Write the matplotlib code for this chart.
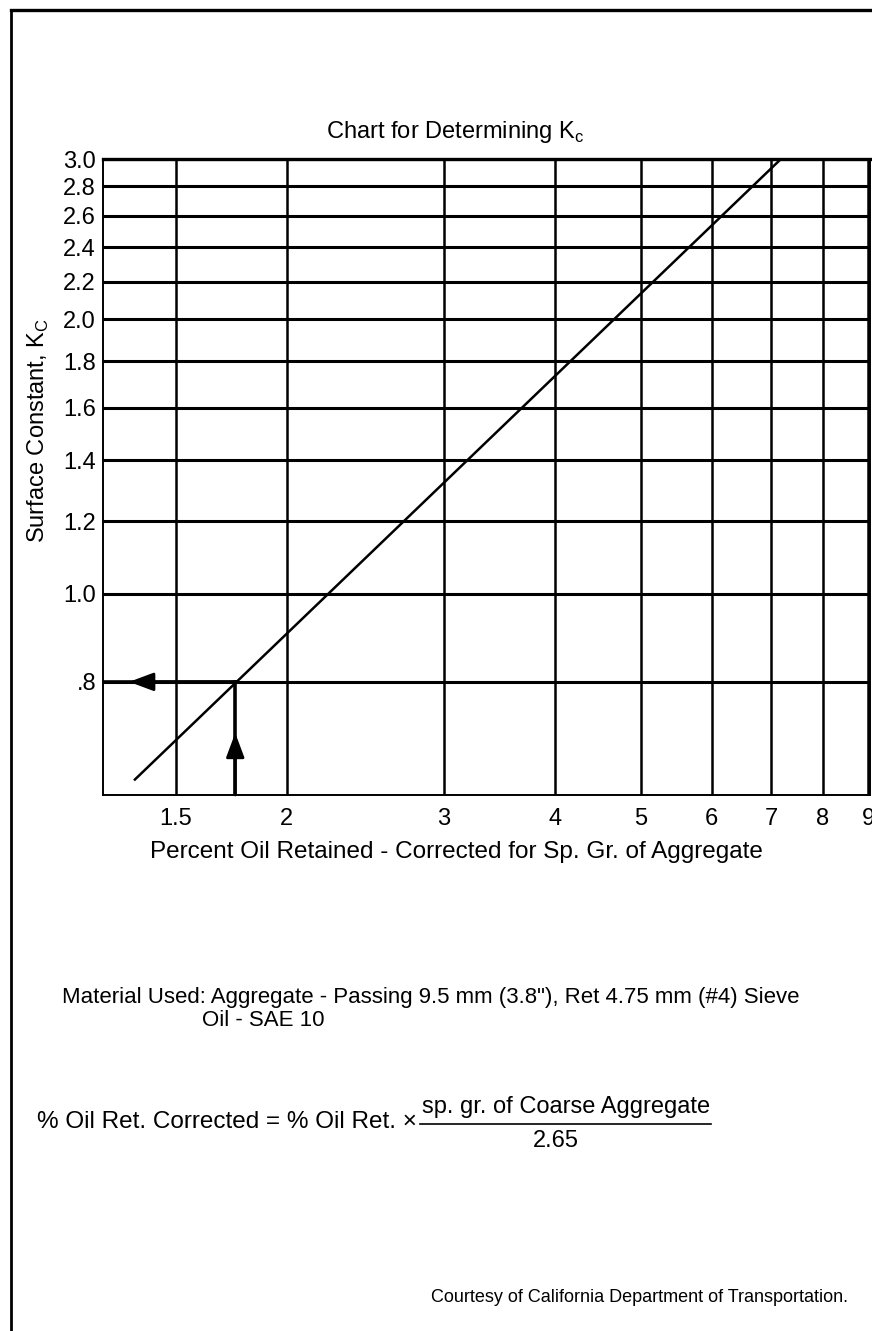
import matplotlib
matplotlib.use("Agg")
import matplotlib.pyplot as plt
from matplotlib.lines import Line2D
from matplotlib.ticker import NullLocator

plt.rcParams["font.family"] = ["Liberation Sans", "DejaVu Sans"]

# chart data
x_ticks = [1.5, 2, 3, 4, 5, 6, 7, 8, 9]
x_labels = ["1.5", "2", "3", "4", "5", "6", "7", "8", "9"]
y_ticks = [0.8, 1.0, 1.2, 1.4, 1.6, 1.8, 2.0, 2.2, 2.4, 2.6, 2.8, 3.0]
y_labels = [".8", "1.0", "1.2", "1.4", "1.6", "1.8", "2.0", "2.2", "2.4", "2.6", "2.8", "3.0"]

# Kc line (straight on log-log)
kc_x = [1.35, 7.18]
kc_y = [0.625, 3.0]

# example reading
read_x = 1.75
read_y = 0.8

fig = plt.figure(figsize=(8.72, 13.31), dpi=100)
W, H = 872, 1331

ax = fig.add_axes([103 / W, 1 - 795 / H, 767 / W, 636 / H])
ax.set_xscale("log")
ax.set_yscale("log")
ax.set_xlim(1.243, 9.04)
ax.set_ylim(0.601, 3.0)

ax.set_xticks(x_ticks)
ax.set_xticklabels(x_labels)
ax.set_yticks(y_ticks)
ax.set_yticklabels(y_labels)
ax.xaxis.set_minor_locator(NullLocator())
ax.yaxis.set_minor_locator(NullLocator())
ax.tick_params(length=0, labelsize=17, colors="black")
ax.tick_params(axis="x", pad=9)
ax.tick_params(axis="y", pad=5)

ax.grid(axis="y", color="black", lw=2.2)
ax.grid(axis="x", color="black", lw=1.8)
ax.set_axisbelow(True)
for s in ax.spines.values():
    s.set_linewidth(1.4)
ax.spines["top"].set_linewidth(2.4)

# the Kc line
ax.plot(kc_x, kc_y, color="black", lw=1.8)

# reading lines with arrows
x0 = ax.get_xlim()[0]
y0 = ax.get_ylim()[0]
ax.plot([read_x, x0], [read_y, read_y], color="black", lw=2.6)
ax.plot([read_x, read_x], [y0, read_y], color="black", lw=2.6)
head = "-|>,head_length=0.75,head_width=0.28"
ax.annotate("", xy=(1.33, read_y), xytext=(read_x, read_y),
            arrowprops=dict(arrowstyle=head, color="black", lw=2,
                            mutation_scale=20, shrinkA=0, shrinkB=0))
ax.annotate("", xy=(read_x, 0.703), xytext=(read_x, y0),
            arrowprops=dict(arrowstyle=head, color="black", lw=2,
                            mutation_scale=20, shrinkA=0, shrinkB=0))

# titles and labels
fig.text(455 / W, 1 - 132 / H, "Chart for Determining K$_\\mathregular{c}$",
         ha="center", va="center", fontsize=17)
fig.text(38 / W, 1 - 431 / H, "Surface Constant, K$_\\mathregular{C}$",
         ha="center", va="center", rotation=90, fontsize=17)
fig.text(456 / W, 1 - 852 / H,
         "Percent Oil Retained - Corrected for Sp. Gr. of Aggregate",
         ha="center", va="center", fontsize=17.5)

# notes below the chart
fig.text(62 / W, 1 - 997 / H,
         "Material Used: Aggregate - Passing 9.5 mm (3.8\"), Ret 4.75 mm (#4) Sieve",
         ha="left", va="center", fontsize=16)
fig.text(202 / W, 1 - 1020 / H, "Oil - SAE 10", ha="left", va="center", fontsize=16)

fig.text(417 / W, 1 - 1122 / H, "% Oil Ret. Corrected = % Oil Ret. \u00d7",
         ha="right", va="center", fontsize=17.5)
fig.text(566 / W, 1 - 1107 / H, "sp. gr. of Coarse Aggregate",
         ha="center", va="center", fontsize=17)
fig.add_artist(Line2D([420 / W, 711 / W], [1 - 1124 / H, 1 - 1124 / H],
                      color="black", lw=1.2))
fig.text(556 / W, 1 - 1141 / H, "2.65", ha="center", va="center", fontsize=17)

fig.text(848 / W, 1 - 1298 / H, "Courtesy of California Department of Transportation.",
         ha="right", va="center", fontsize=13)

# page border (top and left)
fig.add_artist(Line2D([11 / W, 1.0], [1 - 10 / H, 1 - 10 / H], color="black", lw=2.4))
fig.add_artist(Line2D([11 / W, 11 / W], [0.0, 1 - 10 / H], color="black", lw=2.0))

fig.savefig("out.png", dpi=100)
